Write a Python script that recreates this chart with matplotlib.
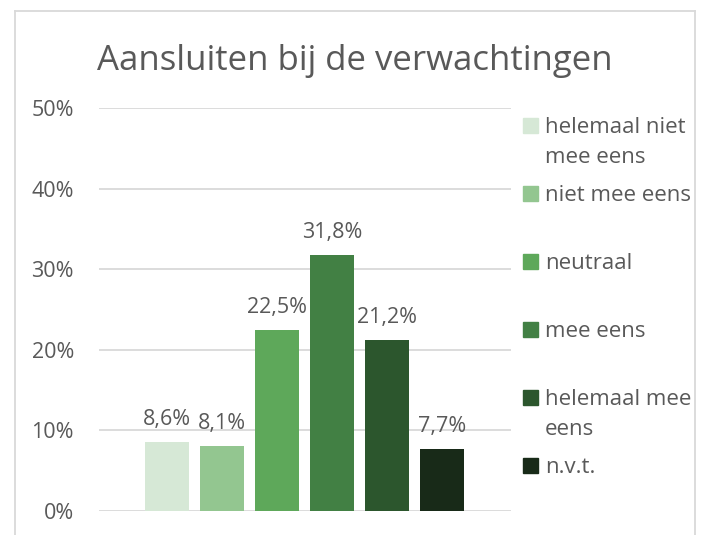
import matplotlib
matplotlib.use("Agg")
import matplotlib.pyplot as plt
from matplotlib.lines import Line2D
from matplotlib.patches import Rectangle

plt.rcParams['font.family'] = ['Open Sans', 'DejaVu Sans']

title = "Aansluiten bij de verwachtingen"
categories = ["helemaal niet\nmee eens", "niet mee eens", "neutraal",
              "mee eens", "helemaal mee\neens", "n.v.t."]
values = [8.6, 8.1, 22.5, 31.8, 21.2, 7.7]
colors = ["#D6E8D6", "#93C690", "#5EA85A", "#428044", "#2C562D", "#182A18"]
yticks = [0, 10, 20, 30, 40, 50]

text_col = "#595959"
grid_col = "#D9D9D9"

W, H = 704, 535
fig = plt.figure(figsize=(W / 100, H / 100), dpi=100)

def px(x, y):
    return x / W, 1 - y / H

# chart border (bottom is cut off in the original)
for (x0, y0), (x1, y1) in [((15, 11), (15, H)), ((15, 11), (695, 11)),
                           ((695, 11), (695, H))]:
    a, b = px(x0, y0)
    c, d = px(x1, y1)
    fig.add_artist(Line2D([a, c], [b, d], color=grid_col, lw=1.3,
                          transform=fig.transFigure))

ax = fig.add_axes([99 / W, (H - 511) / H, (511 - 99) / W, (511 - 108) / H])
x = list(range(len(values)))
ax.bar(x, values, width=0.8, color=colors, zorder=2)

for xi, v in zip(x, values):
    ax.annotate(f"{v:.1f}".replace(".", ",") + "%", (xi, v), xytext=(0, 12),
                textcoords="offset points", ha="center", va="baseline",
                fontsize=15.5, color=text_col)

ax.set_xlim(-1.24, 6.25)
ax.set_ylim(0, 50)
ax.set_yticks(yticks)
ax.set_yticklabels([f"{t}%" for t in yticks], fontsize=15.5, color=text_col)
ax.set_xticks([])
ax.yaxis.grid(True, color=grid_col, lw=1.3)
ax.tick_params(axis="y", length=0, pad=18)
for s in ax.spines.values():
    s.set_visible(False)

fig.text(*px(355, 70), title, ha="center", va="baseline",
         fontsize=25, color=text_col)

# legend, placed like the Excel layout (first-line baselines 68 px apart)
for i, (lab, c) in enumerate(zip(categories, colors)):
    base = 133 + 68 * i
    fig.add_artist(Rectangle(px(523, base), 15 / W, 15 / H,
                             color=c, transform=fig.transFigure))
    for j, line in enumerate(lab.split("\n")):
        fig.text(*px(545, base + 30 * j), line, ha="left", va="baseline",
                 fontsize=16, color=text_col)

fig.savefig("out.png", dpi=100)
